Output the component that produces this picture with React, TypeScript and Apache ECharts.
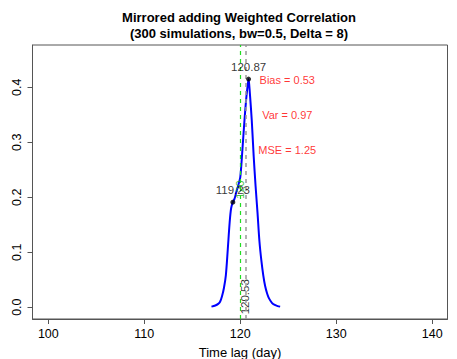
import React, { useEffect, useRef } from "react";
import * as echarts from "echarts";

const titleLines = ["Mirrored adding Weighted Correlation", "(300 simulations, bw=0.5, Delta = 8)"];
const xAxisName = "Time lag (day)";
const xTicks = [100, 110, 120, 130, 140];
const yTicks = [0, 0.1, 0.2, 0.3, 0.4];

const lagX = [
  117.0, 117.4, 117.7, 117.9, 118.1, 118.3, 118.5, 118.7, 118.9, 119.05, 119.23,
  119.4, 119.6, 119.8, 120.0, 120.2, 120.4, 120.6, 120.75, 120.87, 121.0, 121.2,
  121.4, 121.6, 121.8, 122.0, 122.2, 122.4, 122.6, 122.8, 123.0, 123.3, 123.6,
  123.9, 124.16,
];
const densityY = [
  0.001, 0.003, 0.006, 0.01, 0.02, 0.035, 0.058, 0.105, 0.155, 0.18, 0.191,
  0.197, 0.21, 0.222, 0.236, 0.28, 0.33, 0.375, 0.4, 0.415, 0.39, 0.34,
  0.275, 0.22, 0.172, 0.12, 0.085, 0.058, 0.038, 0.025, 0.016, 0.008, 0.004,
  0.002, 0.001,
];

const peakX = [120.87, 119.23];
const peakY = [0.415, 0.191];
const peakLabels = ["120.87", "119.23"];

const trueDelta = 120;
const meanEstimate = 120.53;
const trueLabelY = 0.214;
const meanLabelY = 0.019;

const statX = 124.9;
const statY = [0.413, 0.35, 0.286];
const statLabels = ["Bias = 0.53", "Var = 0.97", "MSE = 1.25"];

const FONT = "'Liberation Sans', Arial, Helvetica, sans-serif";

export default function App() {
  const ref = useRef<HTMLDivElement>(null);
  useEffect(() => {
    document.body.style.margin = "0";
    if (!ref.current) return;
    const chart = echarts.init(ref.current, null, { renderer: "svg" });
    const axisColor = "#555";
    chart.setOption({
      animation: false,
      backgroundColor: "#ffffff",
      textStyle: { fontFamily: FONT },
      graphic: [
        {
          type: "text",
          x: 239,
          y: 17,
          style: {
            text: titleLines[0],
            font: `bold 13px ${FONT}`,
            fill: "#000",
            textAlign: "center",
            textVerticalAlign: "middle",
          },
        },
        {
          type: "text",
          x: 239,
          y: 33,
          style: {
            text: titleLines[1],
            font: `bold 13px ${FONT}`,
            fill: "#000",
            textAlign: "center",
            textVerticalAlign: "middle",
          },
        },
      ],
      grid: {
        left: 32.5,
        right: 9.5,
        top: 45,
        bottom: 40,
        show: true,
        borderColor: axisColor,
        borderWidth: 1,
        backgroundColor: "transparent",
        containLabel: false,
        outerBoundsMode: "none",
      },
      xAxis: {
        type: "value",
        min: 98.35,
        max: 141.6,
        name: xAxisName,
        nameLocation: "middle",
        nameGap: 27,
        nameTextStyle: { fontSize: 13, color: "#000", fontFamily: FONT },
        axisLine: { show: true, onZero: false, lineStyle: { color: axisColor } },
        axisTick: {
          show: true,
          length: 5,
          customValues: xTicks,
          lineStyle: { color: axisColor },
        },
        axisLabel: {
          customValues: xTicks,
          margin: 8,
          fontSize: 12.5,
          color: "#000",
          fontFamily: FONT,
          formatter: (v: number) => String(v),
        },
        splitLine: { show: false },
      },
      yAxis: {
        type: "value",
        min: -0.0215,
        max: 0.477,
        axisLine: { show: true, onZero: false, lineStyle: { color: axisColor } },
        axisTick: {
          show: true,
          length: 5,
          customValues: yTicks,
          lineStyle: { color: axisColor },
        },
        axisLabel: {
          customValues: yTicks,
          rotate: 90,
          margin: 9,
          fontSize: 12.5,
          color: "#000",
          fontFamily: FONT,
          formatter: (v: number) => v.toFixed(1),
        },
        splitLine: { show: false },
      },
      series: [
        {
          type: "line",
          data: lagX.map((x, i) => [x, densityY[i]]),
          showSymbol: false,
          symbol: "none",
          smooth: 0.3,
          lineStyle: { color: "#0000ff", width: 2 },
          z: 3,
          markLine: {
            silent: true,
            symbol: "none",
            label: { show: false },
            data: [
              { xAxis: trueDelta, lineStyle: { color: "#22dd22", type: [4, 4], width: 1.2 } },
              { xAxis: meanEstimate, lineStyle: { color: "#999999", type: [4, 4], width: 1.5 } },
            ],
          },
        },
        {
          type: "scatter",
          data: peakX.map((x, i) => [x, peakY[i]]),
          symbolSize: 5,
          itemStyle: { color: "#000" },
          z: 5,
          label: {
            show: true,
            position: "top",
            distance: 4,
            fontSize: 11.5,
            color: "#000",
            fontFamily: FONT,
            formatter: (p: any) => peakLabels[p.dataIndex],
          },
        },
        {
          type: "scatter",
          data: [[trueDelta, trueLabelY]],
          symbolSize: 0,
          z: 4,
          label: {
            show: true,
            position: "inside",
            rotate: 90,
            fontSize: 11,
            color: "#22aa22",
            fontFamily: FONT,
            formatter: () => String(trueDelta),
          },
        },
        {
          type: "scatter",
          data: [[meanEstimate, meanLabelY]],
          symbolSize: 0,
          z: 4,
          label: {
            show: true,
            position: "inside",
            rotate: 90,
            fontSize: 11.5,
            color: "#000",
            fontFamily: FONT,
            formatter: () => meanEstimate.toFixed(2),
          },
        },
        {
          type: "scatter",
          data: statY.map((y) => [statX, y]),
          symbolSize: 0,
          z: 4,
          label: {
            show: true,
            position: "inside",
            fontSize: 11,
            color: "#ff0000",
            fontFamily: FONT,
            formatter: (p: any) => statLabels[p.dataIndex],
          },
        },
      ],
    });
    return () => chart.dispose();
  }, []);
  return <div ref={ref} style={{ width: 457, height: 359 }} />;
}
